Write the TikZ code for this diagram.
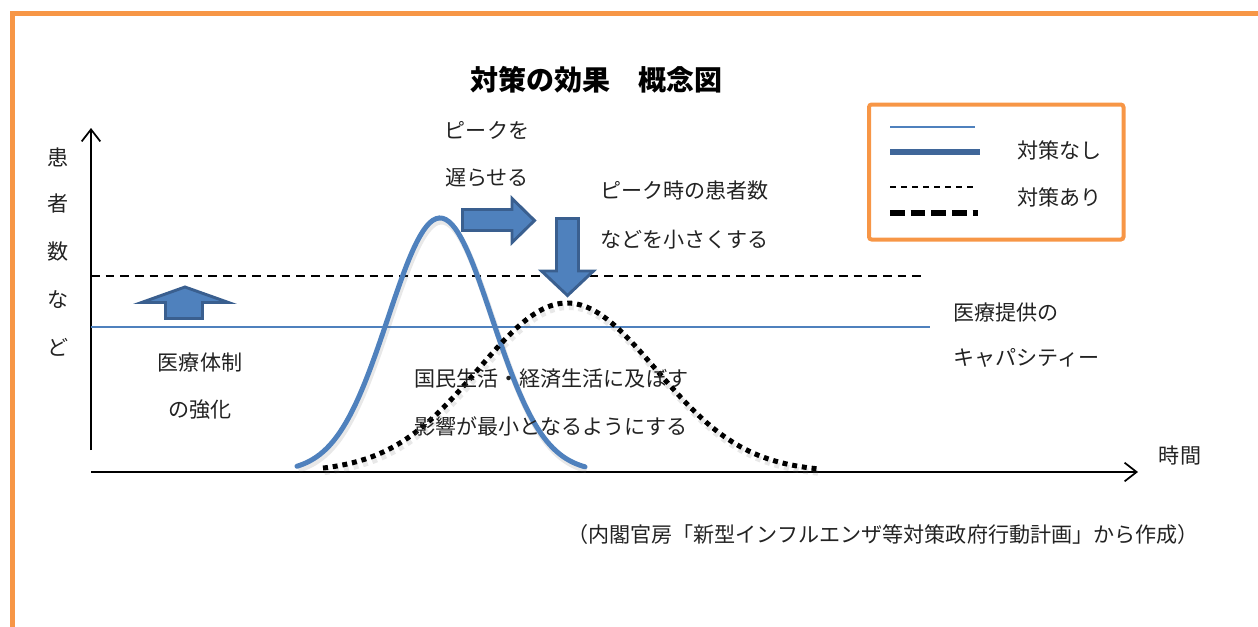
\documentclass[tikz,border=0pt]{standalone}
\usepackage{fontspec}
\newfontfamily\jp{Noto Sans CJK JP}
\usetikzlibrary{arrows.meta}
\definecolor{frameorange}{HTML}{F79646}
\definecolor{blueline}{HTML}{4F81BD}
\definecolor{bluedark}{HTML}{3F6699}
\definecolor{arrowedge}{HTML}{3A5F8F}
\definecolor{txt}{HTML}{222222}
\begin{document}
\begin{tikzpicture}[x=0.75pt,y=-0.75pt,
  lbl/.style={font=\jp\fontsize{15.8pt}{18pt}\selectfont, text=txt, inner sep=0pt},
  lblw/.style={lbl, anchor=west},
  axisline/.style={line width=1.5pt, black},
  capline/.style={line width=1.5pt, blueline},
  capdash/.style={line width=1.5pt, black, dash pattern=on 6.5pt off 4.5pt},
  nocurve/.style={line width=3.75pt, blueline, line cap=round},
  dotcurve/.style={line width=3.75pt, black, dash pattern=on 3.75pt off 3.6pt},
  shadowline/.style={line width=4.5pt, black!60, opacity=0.15},
  bigarrow/.style={fill=blueline, draw=arrowedge, line width=2.2pt, line join=miter},
]
\useasboundingbox (0,0) rectangle (1258,626);
\begin{scope}
  \clip (0,0) rectangle (1258,626);
  \draw[frameorange, line width=4.2pt] (12.5,13.5) rectangle (1300,700);
\end{scope}

% title
\node[font=\jp\bfseries\fontsize{21pt}{24pt}\selectfont, inner sep=0pt] (title) at (596,80) {対策の効果　概念図};

% axes
\coordinate (o) at (91,450);
\coordinate (ytop) at (91,128);
\coordinate (xo) at (91,472);
\coordinate (xend) at (1138,472);
\draw[axisline, -{Straight Barb[length=9pt,width=14pt,line width=1.3pt]}] (o) -- (ytop);
\draw[axisline, -{Straight Barb[length=9pt,width=14pt,line width=1.3pt]}] (xo) -- (xend);

% y-axis label
\node[lbl] (y1) at (58,157) {患};
\node[lbl] (y2) at (58,203) {者};
\node[lbl] (y3) at (58,252) {数};
\node[lbl] (y4) at (58,300) {な};
\node[lbl] (y5) at (58,347) {ど};
\node[lbl] (jikan) at (1180,455) {時間};

% capacity lines
\coordinate (d1) at (91,276);
\coordinate (d2) at (927,276);
\draw[capdash] (d1) -- (d2);
\coordinate (c1) at (91,327);
\coordinate (c2) at (930,327);
\draw[capline] (c1) -- (c2);

% shadows
\draw[shadowline, shift={(1.5,3.5)}] plot[domain=297:585, samples=90, smooth] (\x, {472-254*exp(-(((\x-440)/52)^2)/2)});
\draw[shadowline, dash pattern=on 3.75pt off 3.6pt, shift={(1.5,4)}] plot[domain=323:818, samples=120, smooth] (\x, {472-169*exp(-(((\x-567)/89)^2)/2)});

% curves
\draw[nocurve] plot[domain=297:585, samples=90, smooth] (\x, {472-254*exp(-(((\x-440)/52)^2)/2)});
\draw[dotcurve] plot[domain=323:818, samples=120, smooth] (\x, {472-169*exp(-(((\x-567)/89)^2)/2)});

% arrows
\draw[bigarrow] (185,287) -- (228.5,302.5) -- (202.5,302.5) -- (202.5,318.5) -- (165.5,318.5) -- (165.5,302.5) -- (141.5,302.5) -- cycle;
\draw[bigarrow] (462.5,209.5) -- (512,209.5) -- (512,198.5) -- (534.5,220.5) -- (512,242.5) -- (512,230.5) -- (462.5,230.5) -- cycle;
\draw[bigarrow] (556.5,218.5) -- (578.5,218.5) -- (578.5,271) -- (593.5,271) -- (567.5,295.5) -- (541.5,271) -- (556.5,271) -- cycle;

% texts
\node[lbl] (delay1) at (487,130) {ピークを};
\node[lbl] (delay2) at (487,178) {遅らせる};
\node[lblw] (peak1) at (600,191) {ピーク時の患者数};
\node[lblw] (peak2) at (600,240) {などを小さくする};
\node[lbl] (med1) at (200,362) {医療体制};
\node[lbl] (med2) at (200,410) {の強化};
\node[lblw] (life1) at (414,379) {国民生活・経済生活に及ぼす};
\node[lblw] (life2) at (414,426) {影響が最小となるようにする};
\node[lblw] (cap1) at (953,312) {医療提供の};
\node[lblw] (cap2) at (953,358) {キャパシティー};
\node[lbl, anchor=east] (src) at (1199,534) {（内閣官房「新型インフルエンザ等対策政府行動計画」から作成）};

% legend
\draw[frameorange, line width=3pt, rounded corners=2pt] (869,104.5) rectangle (1123.5,239.5);
\coordinate (l1a) at (890,127); \coordinate (l1b) at (975,127);
\draw[line width=1.2pt, blueline] (l1a) -- (l1b);
\coordinate (l2a) at (890,152); \coordinate (l2b) at (980,152);
\draw[line width=3.8pt, bluedark] (l2a) -- (l2b);
\coordinate (l3a) at (890,187); \coordinate (l3b) at (978,187);
\draw[line width=1.2pt, black, dash pattern=on 4.5pt off 3.8pt] (l3a) -- (l3b);
\coordinate (l4a) at (890,213); \coordinate (l4b) at (978,213);
\draw[shadowline, dash pattern=on 11pt off 4.5pt, shift={(1,4)}] (l4a) -- (l4b);
\draw[line width=3.8pt, black, dash pattern=on 11pt off 4.5pt] (l4a) -- (l4b);
\node[lblw] (leg1) at (1017,150) {対策なし};
\node[lblw] (leg2) at (1017,197) {対策あり};
\end{tikzpicture}
\end{document}
